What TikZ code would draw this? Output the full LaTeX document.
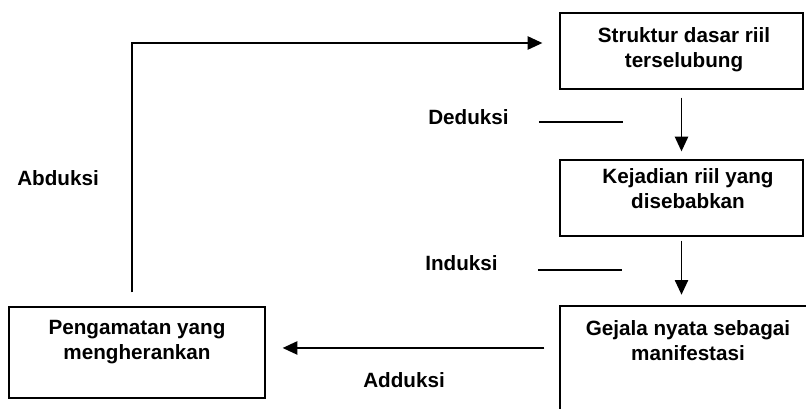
\documentclass[tikz,border=0pt]{standalone}
\usepackage{fontspec}
\setmainfont{Liberation Sans}
\usetikzlibrary{arrows.meta}
\begin{document}
\begin{tikzpicture}[x=0.75pt,y=-0.75pt,
        box/.style={draw,line width=1pt,inner sep=0pt},
        txt/.style={align=center,anchor=north,inner sep=0pt,font=\fontsize{15.5}{18.75}\selectfont\bfseries},
        lbl/.style={anchor=base west,inner sep=0pt,font=\fontsize{15.5}{18.75}\selectfont\bfseries},
        arr/.style={line width=1pt,-{Triangle[length=11pt,width=10pt]}}]
                \useasboundingbox (0,0) rectangle (806,408);
                %% boxes
                \node[box,minimum width=182.25pt,minimum height=57pt] (struktur) at (681.5,51) {};
                \node[box,minimum width=182.25pt,minimum height=57pt] (kejadian) at (681.5,198) {};
                \node[box,minimum width=192pt,minimum height=68.25pt] (pengamatan) at (137,352.5) {};
                \node[box,minimum width=192pt,minimum height=85.5pt] (gejala) at (688,363) {};
                %% box texts
                \node[txt] (strukturtxt) at (684,27) {Struktur dasar riil\\terselubung};
                \node[txt] (kejadiantxt) at (688,168) {Kejadian riil yang\\disebabkan};
                \node[txt] (pengamatantxt) at (137,320) {Pengamatan yang\\mengherankan};
                \node[txt] (gejalatxt) at (688,320) {Gejala nyata sebagai\\manifestasi};
                %% labels
                \node[lbl] (deduksi) at (428,124) {Deduksi};
                \node[lbl] (induksi) at (425,270) {Induksi};
                \node[lbl] (abduksi) at (17,185) {Abduksi};
                \node[lbl] (adduksi) at (363,387) {Adduksi};
                \draw[line width=1pt] ([xshift=22.5pt,yshift=1.5pt]deduksi.base east) -- ++(84,0);
                \draw[line width=1pt] ([xshift=30pt]induksi.base east) -- ++(84,0);
                %% arrows
                \draw[arr,shorten <=6pt,shorten >=6pt] (struktur) -- (kejadian);
                \draw[arr,shorten <=3pt,shorten >=8pt] (kejadian.south) -- (kejadian.south |- gejala.north);
                \draw[arr,shorten <=11.25pt,shorten >=12.75pt] ([yshift=3.4pt]gejala.west |- pengamatan.east) -- ([yshift=3.4pt]pengamatan.east);
                \draw[arr,shorten <=10.5pt,shorten >=12.75pt] ([xshift=-3.75pt]pengamatan.north) |- ([yshift=6pt]struktur.west);
            \end{tikzpicture}
\end{document}
